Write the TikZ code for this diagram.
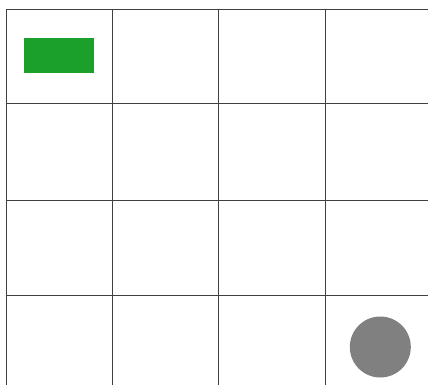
\documentclass[tikz,border=0pt]{standalone}
\definecolor{agentgreen}{RGB}{27,161,43}
\definecolor{goalgray}{RGB}{128,128,128}
\tikzset{
  gridline/.style={draw=black!75, line width=0.9pt},
  agentbox/.style={rectangle, fill=agentgreen, draw=none, minimum width=69.5pt, minimum height=35pt, inner sep=0pt},
  goaldisc/.style={circle, fill=goalgray, draw=none, minimum size=61pt, inner sep=0pt}
}
\begin{document}
\begin{tikzpicture}[x=1pt,y=-1pt]
\useasboundingbox (0,0) rectangle (428,385);
% grid
\foreach \gx in {6,112,218.3,325} \draw[gridline] (\gx,9) -- (\gx,385);
\foreach \gy in {9,103.3,200.3,295} \draw[gridline] (6,\gy) -- (428,\gy);
\node[agentbox] (agent) at (59,55.5) {};
\node[goaldisc] (goal) at (380.3,347) {};
\end{tikzpicture}
\end{document}
